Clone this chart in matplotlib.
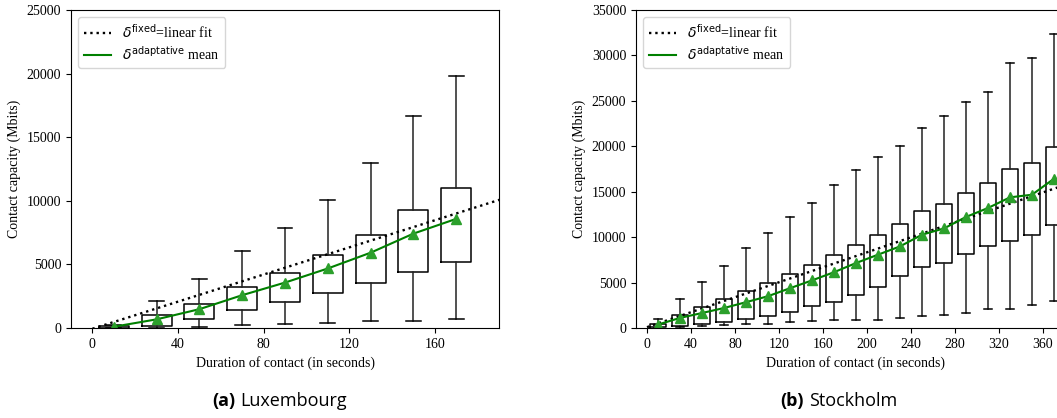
import matplotlib
matplotlib.use("Agg")
import matplotlib.pyplot as plt

plt.rcParams['font.family'] = ['Liberation Serif', 'DejaVu Serif']
plt.rcParams['font.size'] = 10

# Luxembourg: one box per 20 s bin
lux_pos = [10, 30, 50, 70, 90, 110, 130, 150, 170]
lux_whislo = [0, 20, 100, 210, 290, 390, 550, 580, 690]
lux_q1 = [20, 180, 690, 1400, 2070, 2780, 3520, 4420, 5150]
lux_q3 = [140, 1000, 1920, 3230, 4360, 5700, 7310, 9310, 10990]
lux_whishi = [250, 2150, 3860, 6070, 7830, 10070, 12990, 16660, 19820]
lux_mean = [100, 680, 1480, 2580, 3570, 4680, 5920, 7420, 8580]
lux_fit = [53.3, -60]          # slope, intercept
lux_fit_x = [0, 200]

# Stockholm
sto_pos = [10, 30, 50, 70, 90, 110, 130, 150, 170, 190, 210, 230, 250, 270,
           290, 310, 330, 350, 370]
sto_whislo = [0, 110, 250, 330, 400, 470, 620, 730, 840, 910, 910, 1100,
              1280, 1460, 1610, 2090, 2050, 2560, 2930]
sto_q1 = [140, 180, 400, 660, 990, 1320, 1790, 2380, 2860, 3630, 4550, 5680,
          6710, 7110, 8100, 9060, 9610, 10270, 11290]
sto_q3 = [440, 1390, 2310, 3190, 4100, 4950, 5930, 6930, 7990, 9090, 10270,
          11400, 12880, 13650, 14870, 15910, 17460, 18120, 19920]
sto_whishi = [990, 3190, 5020, 6860, 8760, 10450, 12170, 13760, 15740, 17420,
              18780, 19990, 22010, 23370, 24870, 25930, 29170, 29720, 32390]
sto_mean = [380, 1110, 1650, 2200, 2840, 3500, 4380, 5240, 6140, 7150, 8070,
            8980, 10270, 10960, 12220, 13210, 14380, 14670, 16430]
sto_fit = [41.2, 91]
sto_fit_x = [0, 400]

W, H = 1057, 418
fig = plt.figure(figsize=(W / 100, H / 100), dpi=100)
ax1 = fig.add_axes([71 / W, 90 / H, 428 / W, 318 / H])
# right panel runs past the figure edge, like the cropped original
ax2 = fig.add_axes([636 / W, 90 / H, 440 / W, 318 / H])


def draw(ax, pos, whislo, q1, q3, whishi, mean, fit, fit_x, xlim, ylim, xticks):
    stats = []
    for i in range(len(pos)):
        stats.append(dict(whislo=whislo[i], q1=q1[i], med=(q1[i] + q3[i]) / 2,
                          q3=q3[i], whishi=whishi[i], mean=mean[i], fliers=[]))
    ax.bxp(stats, positions=pos, widths=14, showmeans=True, showfliers=False,
           manage_ticks=False,
           boxprops=dict(color='black', linewidth=1.1),
           whiskerprops=dict(color='#222222', linewidth=1.1),
           capprops=dict(color='black', linewidth=1.1),
           medianprops=dict(linewidth=0),
           meanprops=dict(marker='^', markerfacecolor='#2ca02c',
                          markeredgecolor='#2ca02c', markersize=7))
    fy = [fit[0] * x + fit[1] for x in fit_x]
    ax.plot(fit_x, fy, ':', color='black', linewidth=1.7,
            label=r'$\delta^{\mathrm{fixed}}$=linear fit')
    ax.plot(pos, mean, '-', color='green', linewidth=1.5,
            label=r'$\delta^{\mathrm{adaptative}}$ mean')
    ax.set_xlim(*xlim)
    ax.set_ylim(*ylim)
    ax.set_xticks(xticks)
    ax.set_xticklabels([str(t) for t in xticks])
    ax.set_yticks(range(0, ylim[1] + 1, 5000))
    ax.set_xlabel('Duration of contact (in seconds)')
    ax.set_ylabel('Contact capacity (Mbits)')
    ax.legend(loc='upper left', fontsize=10, labelspacing=0.3)


draw(ax1, lux_pos, lux_whislo, lux_q1, lux_q3, lux_whishi, lux_mean,
     lux_fit, lux_fit_x, (-10, 190), (0, 25000), [0, 40, 80, 120, 160])
draw(ax2, sto_pos, sto_whislo, sto_q1, sto_q3, sto_whishi, sto_mean,
     sto_fit, sto_fit_x, (-10, 390), (0, 35000),
     [0, 40, 80, 120, 160, 200, 240, 280, 320, 360])

cap_y = 1 - 401 / H
for xb, bold, rest in [(235, '(a)', 'Luxembourg'), (804, '(b)', 'Stockholm')]:
    fig.text(xb / W, cap_y, bold, ha='right', va='center', fontsize=13,
             fontweight='bold', family='Open Sans')
    fig.text((xb + 5) / W, cap_y, rest, ha='left', va='center', fontsize=13,
             family='Open Sans')

fig.savefig('out.png', dpi=100)
